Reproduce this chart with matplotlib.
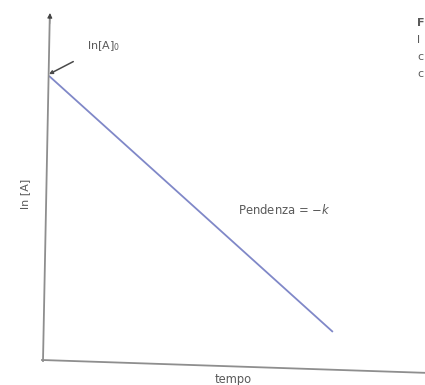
import matplotlib
matplotlib.use("Agg")
import matplotlib.pyplot as plt
from matplotlib.patches import FancyArrowPatch
from matplotlib.lines import Line2D

# First-order kinetics: ln[A] falls linearly with time
tempo = [0.0, 7.55]
ln_A = [8.24, 0.84]

x_label = "tempo"
y_label = "ln [A]"
start_label = "ln[A]$_0$"
slope_label = "Pendenza = \u2212$k$"
side_letters = ["F", "l", "c", "c"]

W, H = 425, 385
fig = plt.figure(figsize=(W / 100, H / 100), dpi=100)
fig.patch.set_facecolor("white")


def fx(px):
    return px / W


def fy(py):
    return 1 - py / H


left_px, right_px, bottom_px, top_px = 49, 425, 361, 15
ax = fig.add_axes([fx(left_px), fy(bottom_px),
                   (right_px - left_px) / W, (bottom_px - top_px) / H])
ax.set_xlim(0, 10)
ax.set_ylim(0, 10)
ax.set_xticks([])
ax.set_yticks([])
ax.patch.set_alpha(0)
for s in ax.spines.values():
    s.set_visible(False)

axis_col = "#8e8e8e"
# hand-drawn, slightly skewed axes
fig.add_artist(Line2D([fx(42), fx(430)], [fy(360), fy(373)],
                      color=axis_col, linewidth=1.3))
fig.add_artist(Line2D([fx(43), fx(49.7)], [fy(361), fy(20)],
                      color=axis_col, linewidth=1.3))
fig.add_artist(FancyArrowPatch((fx(49.6), fy(24)), (fx(50), fy(13)),
                               transform=fig.transFigure,
                               arrowstyle="-|>", mutation_scale=7,
                               color="#444444", linewidth=0.8,
                               shrinkA=0, shrinkB=0))

ax.plot(tempo, ln_A, color="#8088c8", linewidth=1.3, solid_capstyle="butt")

text_col = "#5a5a5a"
font = "DejaVu Sans"
ax.annotate(start_label, xy=(tempo[0], ln_A[0] + 0.05),
            xytext=(1.0, 9.1), fontsize=8, color=text_col, family=font,
            ha="left", va="center",
            arrowprops=dict(arrowstyle="-|>", color="#4a4a4a", lw=1.1,
                            mutation_scale=5, shrinkA=9, shrinkB=0))

ax.text(5.02, 4.36, slope_label, fontsize=8.4, color=text_col, family=font,
        ha="left", va="center")

fig.text(fx(233), fy(380), x_label, fontsize=8.3, color=text_col,
         family=font, ha="center", va="center")
fig.text(fx(25), fy(194), y_label, fontsize=8, color=text_col,
         family=font, ha="center", va="center", rotation=90)

# start of the neighbouring caption at the right edge
for i, ch in enumerate(side_letters):
    fig.text(fx(417), fy(23 + i * 17), ch, fontsize=8,
             color=text_col, family=font, ha="left", va="center",
             fontweight="bold" if i == 0 else "normal")

fig.savefig("out.png", dpi=100, facecolor="white")
